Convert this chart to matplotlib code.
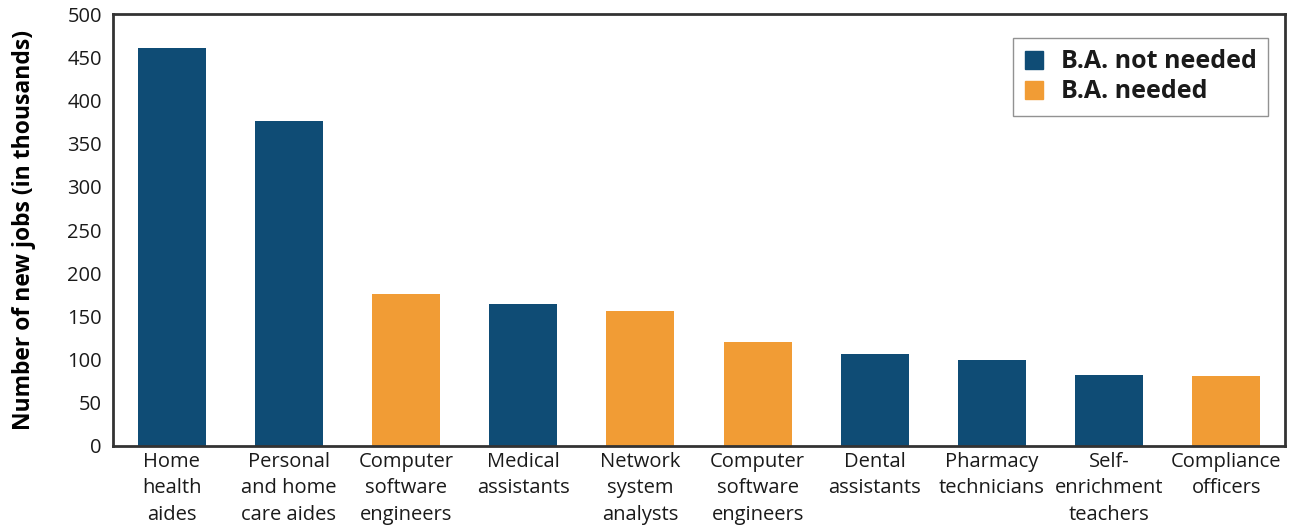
import matplotlib.pyplot as plt
from matplotlib.patches import Patch

plt.rcParams['font.family'] = ['Open Sans', 'DejaVu Sans']

categories = ["Home\nhealth\naides", "Personal\nand home\ncare aides",
              "Computer\nsoftware\nengineers", "Medical\nassistants",
              "Network\nsystem\nanalysts", "Computer\nsoftware\nengineers",
              "Dental\nassistants", "Pharmacy\ntechnicians",
              "Self-\nenrichment\nteachers", "Compliance\nofficers"]
jobs = [461, 376, 176, 164, 156, 120, 106, 100, 82, 81]
ba_needed = [False, False, True, False, True, True, False, False, False, True]

blue = "#0f4c75"
orange = "#f19c35"

fig = plt.figure(figsize=(12.96, 5.29), dpi=100)
ax = fig.add_axes([0.0872, 0.1569, 0.9043, 0.8166])

colors = [orange if n else blue for n in ba_needed]
ax.bar(range(len(jobs)), jobs, width=0.58, color=colors)

ax.set_xlim(-0.5, len(jobs) - 0.5)
ax.set_ylim(0, 500)
ax.set_yticks(range(0, 501, 50))
ax.set_xticks(range(len(jobs)))
ax.set_xticklabels(categories, fontsize=14.5, linespacing=1.45, color="#1a1a1a")
ax.tick_params(axis='both', length=0, labelsize=14.5, colors="#1a1a1a")
ax.tick_params(axis='y', pad=8)
ax.tick_params(axis='x', pad=4)
ax.set_ylabel("Number of new jobs (in thousands)", fontsize=16.5, fontweight='bold')
ax.yaxis.set_label_coords(-0.066, 0.5)

for s in ax.spines.values():
    s.set_color("#333333")
    s.set_linewidth(2)

handles = [Patch(color=blue, label="B.A. not needed"),
           Patch(color=orange, label="B.A. needed")]
leg = ax.legend(handles=handles, loc='upper right', bbox_to_anchor=(0.9855, 0.944),
                borderaxespad=0,
                prop={'size': 18, 'weight': 'bold'}, fancybox=False,
                edgecolor="#777777", handlelength=0.75, handleheight=0.75,
                handletextpad=0.7, labelspacing=0.2, borderpad=0.45)
leg.get_frame().set_linewidth(1)
for t in leg.get_texts():
    t.set_color("#1a1a1a")

plt.savefig("out.png", dpi=100)
